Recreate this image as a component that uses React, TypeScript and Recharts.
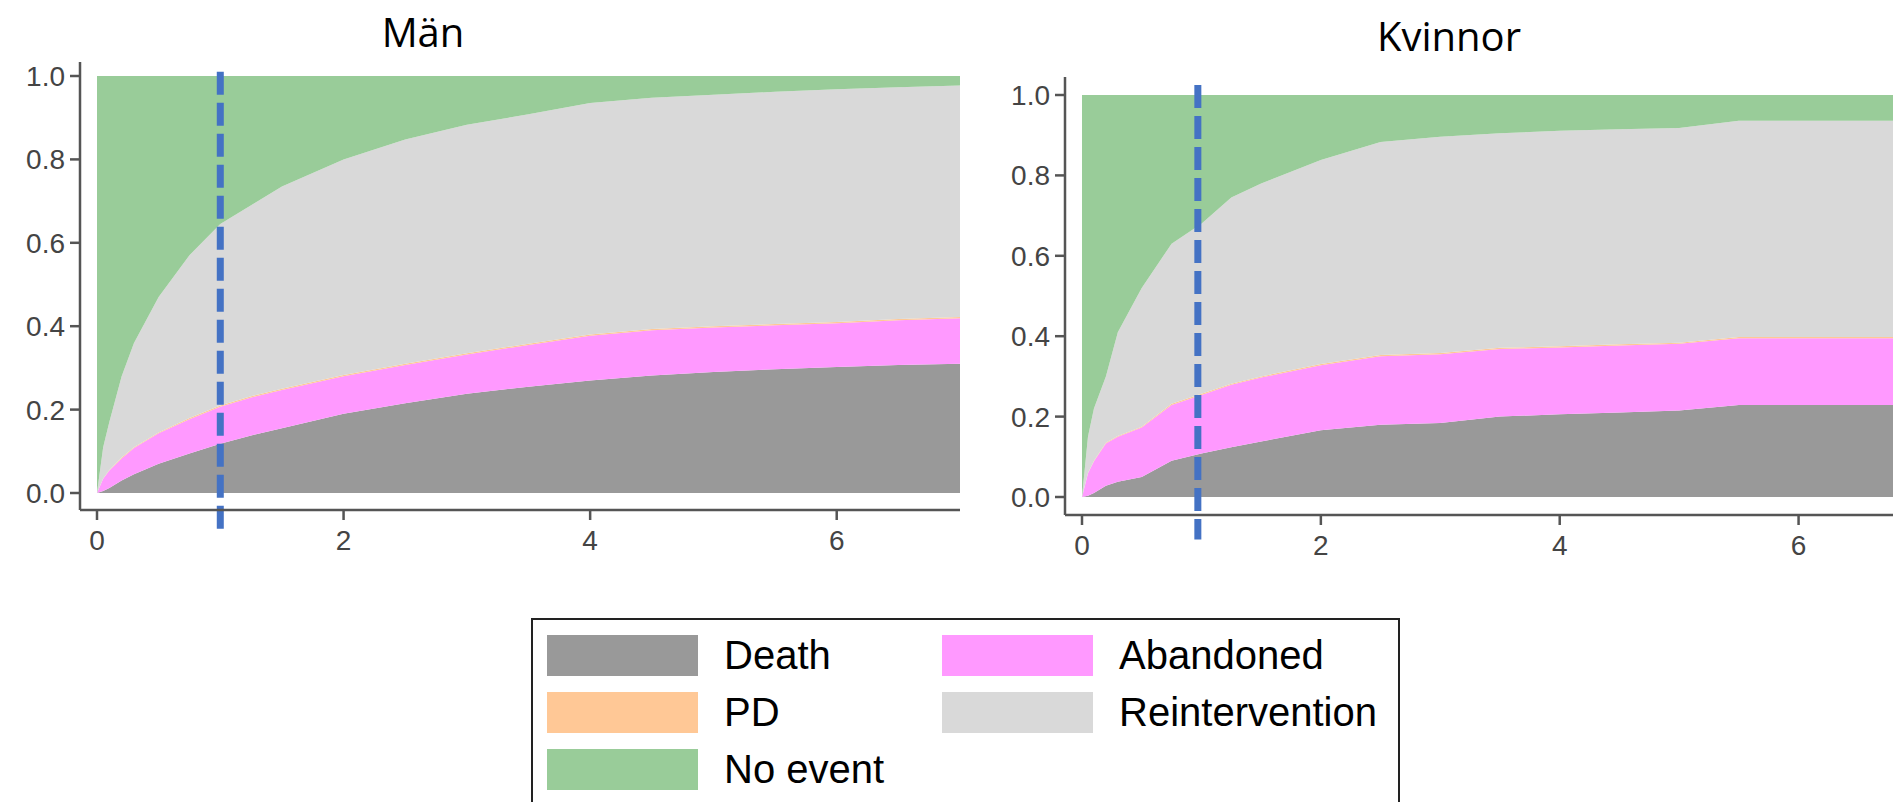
import { AreaChart, Area, XAxis, YAxis, ReferenceLine } from 'recharts'

// follow-up time (years)
const years = [0, 0.05, 0.1, 0.2, 0.3, 0.5, 0.75, 1, 1.25, 1.5, 2, 2.5, 3, 3.5, 4, 4.5, 5, 5.5, 6, 6.5, 7]

// Män – band heights per state (stacked, sums to 1)
const menDeath = [0, 0.005, 0.012, 0.03, 0.045, 0.07, 0.095, 0.118, 0.138, 0.155, 0.19, 0.215, 0.238, 0.255, 0.27, 0.282, 0.29, 0.297, 0.302, 0.307, 0.31]
const menAbandoned = [0, 0.029, 0.042, 0.053, 0.063, 0.073, 0.082, 0.089, 0.091, 0.092, 0.09, 0.092, 0.094, 0.1, 0.107, 0.108, 0.107, 0.105, 0.105, 0.107, 0.109]
const menPd = [0, 0.001, 0.001, 0.002, 0.002, 0.002, 0.003, 0.003, 0.003, 0.003, 0.003, 0.003, 0.003, 0.003, 0.003, 0.003, 0.003, 0.003, 0.003, 0.003, 0.003]
const menReint = [0, 0.075, 0.115, 0.195, 0.25, 0.325, 0.39, 0.435, 0.458, 0.485, 0.517, 0.538, 0.548, 0.55, 0.555, 0.555, 0.555, 0.557, 0.558, 0.556, 0.555]
const menNoEvent = [1, 0.89, 0.83, 0.72, 0.64, 0.53, 0.43, 0.355, 0.31, 0.265, 0.2, 0.152, 0.117, 0.092, 0.065, 0.052, 0.045, 0.038, 0.032, 0.027, 0.023]

// Kvinnor
const womenDeath = [0, 0.003, 0.01, 0.028, 0.038, 0.05, 0.09, 0.108, 0.124, 0.138, 0.166, 0.18, 0.184, 0.2, 0.206, 0.21, 0.215, 0.229, 0.229, 0.229, 0.229]
const womenAbandoned = [0, 0.056, 0.079, 0.105, 0.112, 0.123, 0.139, 0.146, 0.155, 0.159, 0.162, 0.17, 0.171, 0.168, 0.166, 0.167, 0.166, 0.166, 0.166, 0.166, 0.166]
const womenPd = [0, 0.001, 0.001, 0.002, 0.002, 0.002, 0.003, 0.003, 0.003, 0.003, 0.003, 0.003, 0.003, 0.003, 0.003, 0.003, 0.003, 0.003, 0.003, 0.003, 0.003]
const womenReint = [0, 0.09, 0.13, 0.165, 0.258, 0.345, 0.398, 0.423, 0.463, 0.48, 0.507, 0.53, 0.538, 0.534, 0.536, 0.535, 0.534, 0.538, 0.538, 0.538, 0.538]
const womenNoEvent = [1, 0.85, 0.78, 0.7, 0.59, 0.48, 0.37, 0.32, 0.255, 0.22, 0.162, 0.117, 0.104, 0.095, 0.089, 0.085, 0.082, 0.064, 0.064, 0.064, 0.064]

const xTicks = [0, 2, 4, 6]
const yTicks = [0, 0.2, 0.4, 0.6, 0.8, 1]

// 1-year marker
const menMarker = 1
const womenMarker = 0.97

const series = [
  { key: 'death', label: 'Death', color: '#999999' },
  { key: 'abandoned', label: 'Abandoned', color: '#FF99FF' },
  { key: 'pd', label: 'PD', color: '#FFC896' },
  { key: 'reint', label: 'Reintervention', color: '#D9D9D9' },
  { key: 'noEvent', label: 'No event', color: '#99CC99' },
]

const build = (d: number[], a: number[], p: number[], r: number[], n: number[]) =>
  years.map((t, i) => ({ t, death: d[i], abandoned: a[i], pd: p[i], reint: r[i], noEvent: n[i] }))

const menData = build(menDeath, menAbandoned, menPd, menReint, menNoEvent)
const womenData = build(womenDeath, womenAbandoned, womenPd, womenReint, womenNoEvent)

const axisColor = '#555'
const tickStyle = { fill: '#444', fontSize: 28, fontFamily: '"Liberation Sans", Arial, sans-serif' }

function StackPanel({ data, width, height, top, marker, markerTop, markerBottom, pad, boxed }: any) {
  return (
    <AreaChart width={width} height={height} data={data} margin={{ top, right: 10, bottom: 5, left: 0 }}>
      <XAxis
        dataKey="t"
        type="number"
        domain={[0, 7]}
        ticks={xTicks}
        padding={{ left: 17, right: 0 }}
        height={45}
        tickSize={10}
        tickMargin={10}
        tick={tickStyle}
        stroke={axisColor}
        strokeWidth={2.5}
      />
      {boxed && (
        <XAxis
          xAxisId="top"
          orientation="top"
          dataKey="t"
          type="number"
          domain={[0, 7]}
          height={0}
          tick={false}
          tickLine={false}
          stroke={axisColor}
          strokeWidth={2.5}
        />
      )}
      <YAxis
        type="number"
        domain={[0, 1]}
        ticks={yTicks}
        allowDataOverflow
        padding={pad}
        width={80}
        tickSize={10}
        tickMargin={5}
        tick={tickStyle}
        tickFormatter={(v: number) => v.toFixed(1)}
        stroke={axisColor}
        strokeWidth={2.5}
      />
      {series.map((s) => (
        <Area
          key={s.key}
          dataKey={s.key}
          stackId="1"
          type="linear"
          stroke="none"
          fill={s.color}
          fillOpacity={1}
          isAnimationActive={false}
        />
      ))}
      <ReferenceLine
        segment={[{ x: marker, y: markerTop }, { x: marker, y: markerBottom }]}
        ifOverflow="visible"
        stroke="#4472C4"
        strokeWidth={7}
        strokeDasharray="23 8"
      />
    </AreaChart>
  )
}

const titleStyle: any = {
  position: 'absolute',
  fontFamily: '"Open Sans", "Noto Sans", sans-serif',
  fontSize: 40,
  color: '#000',
  transform: 'translateX(-50%)',
  whiteSpace: 'nowrap',
}

const legendRows = [
  ['death', 'abandoned'],
  ['pd', 'reint'],
  ['noEvent'],
]

export default function App() {
  return (
    <div style={{ position: 'fixed', left: 0, top: 0, width: 1893, height: 802, overflow: 'hidden', background: '#fff' }}>
      <div style={{ ...titleStyle, left: 423, top: 4 }}>Män</div>
      <div style={{ ...titleStyle, left: 1449, top: 8 }}>Kvinnor</div>

      <div style={{ position: 'absolute', left: 0, top: 0 }}>
        <StackPanel
          data={menData}
          width={970}
          height={560}
          top={62}
          marker={menMarker}
          markerTop={1.01}
          markerBottom={-0.094}
          pad={{ top: 14, bottom: 17 }}
          boxed={false}
        />
      </div>

      <div style={{ position: 'absolute', left: 985, top: 0 }}>
        <StackPanel
          data={womenData}
          width={943}
          height={565}
          top={77}
          marker={womenMarker}
          markerTop={1.025}
          markerBottom={-0.106}
          pad={{ top: 18, bottom: 18 }}
          boxed
        />
      </div>

      {/* shared legend */}
      <div
        style={{
          position: 'absolute',
          left: 531,
          top: 618,
          width: 865,
          height: 260,
          border: '2px solid #222',
          fontFamily: '"Liberation Sans", Arial, sans-serif',
          fontSize: 40,
          color: '#000',
        }}
      >
        {legendRows.map((row, r) =>
          row.map((key, c) => {
            const s = series.find((x) => x.key === key)!
            return (
              <div
                key={key}
                style={{ position: 'absolute', left: 14 + c * 395, top: 15 + r * 57, display: 'flex', alignItems: 'center' }}
              >
                <div style={{ width: 151, height: 41, background: s.color }} />
                <span style={{ marginLeft: 26, lineHeight: '41px' }}>{s.label}</span>
              </div>
            )
          })
        )}
      </div>
    </div>
  )
}
